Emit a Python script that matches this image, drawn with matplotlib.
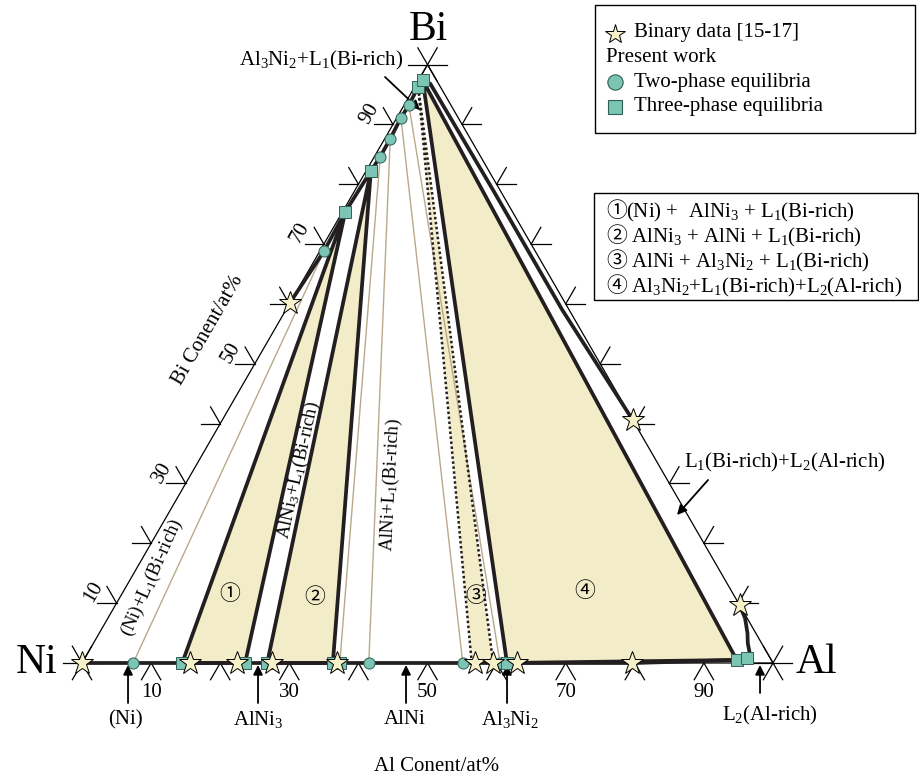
import numpy as np
import matplotlib.pyplot as plt
from matplotlib.patches import Polygon, Rectangle

plt.rcParams['font.family'] = ['Liberation Serif', 'Noto Sans CJK JP']
plt.rcParams['mathtext.fontset'] = 'custom'
plt.rcParams['mathtext.rm'] = 'Liberation Serif'
plt.rcParams['mathtext.it'] = 'Liberation Serif:italic'

# compositions in at% (Al, Bi); Ni is the rest
binary_al = [0, 15.6, 22.4, 27.5, 36.9, 56.9, 59.5, 63.0, 79.6, 0, 59.4, 90.3]
binary_bi = [0, 0, 0, 0, 0, 0, 0, 0, 0, 60.2, 40.6, 9.7]

two_al = [7.4, 41.5, 55.1, 60.5, 0.6, 0.85, 0.8, 0.6, 0.7]
two_bi = [0, 0, 0, 0, 68.9, 84.6, 87.6, 91.1, 93.2]

three_al = [14.5, 23.6, 26.8, 36.3, 37.3, 61.5, 94.5, 95.8, 0.4, 0.7, 0.5, 0.6]
three_bi = [0, 0, 0, 0, 0, 0, 0.5, 0.8, 75.4, 82.2, 96.3, 97.4]

# tie triangles (Al, Bi) of each vertex
tri1 = [(14.5, 0), (23.6, 0), (0.4, 75.4)]
tri2 = [(26.8, 0), (36.3, 0), (0.7, 82.2)]
tri3 = [(56.4, 0), (59.5, 0), (0.5, 96.3)]
tri4 = [(61.5, 0), (0.6, 97.4), (94.5, 0.5)]

# two-phase tie lines: solid end -> liquid end
tie_solid = [(7.4, 0), (37.3, 0), (41.5, 0), (55.1, 0), (60.5, 0)]
tie_liq = [(0.6, 68.9), (0.85, 84.6), (0.8, 87.6), (0.6, 91.1), (0.7, 93.2)]

# phase boundaries
l1_al = [0, 0.6, 0.4, 0.7, 0.85, 0.8, 0.6, 0.7, 0.5, 0.6, 2.0, 20.0, 40.0, 59.4]
l1_bi = [60.2, 68.9, 75.4, 82.2, 84.6, 87.6, 91.1, 93.2, 96.3, 97.4, 96.8, 79.0, 59.0, 40.6]
l2_al = [90.3, 92.2, 93.8, 94.7, 95.7, 95.9, 95.8]
l2_bi = [9.7, 7.5, 5.0, 3.3, 1.8, 1.1, 0.8]
solid_al = [0, 80, 94.5]
solid_bi = [0, 0, 0.5]

ticks = [10, 20, 30, 40, 50, 60, 70, 80, 90]
tick_labels = ['10', '', '30', '', '50', '', '70', '', '90']

FILL = '#F2ECC8'
TEAL = '#7CC4B3'
STAR = '#F6F1C8'
DARK = '#231F20'
TIE = '#B9A98A'

S3 = np.sqrt(3) / 2


def tern(al, bi):
    al = np.asarray(al, float)
    bi = np.asarray(bi, float)
    return al + bi / 2, bi * S3


def fp(px, py):
    return px / 920, 1 - py / 779


def dp(px, py):
    # pixel position of the reference layout -> data units
    return (px - 82) / 6.91, (663 - py) / 6.91


fig = plt.figure(figsize=(9.2, 7.79), dpi=100)
ax = fig.add_axes([0, 0, 1, 1])
ax.set_xlim(-11.87, 121.27)
ax.set_ylim(-16.79, 95.95)
ax.axis('off')

# frame
cx, cy = tern([0, 100, 0, 0], [0, 0, 100, 0])
ax.plot(cx, cy, color='k', lw=0.9, zorder=2)

L = 2.8
d60 = np.array([0.5, S3])
d120 = np.array([-0.5, S3])
for v, lab in zip(ticks, tick_labels):
    x, y = tern(v, 0)
    for d in (-d60, np.array([0.5, -S3])):
        ax.plot([x, x + L * d[0]], [y, y + L * d[1]], color='k', lw=0.9)
    if lab:
        ax.text(x, y - 4.3, lab, ha='center', va='center', fontsize=15)
    x, y = tern(0, v)
    ax.plot([x, x - L], [y, y], color='k', lw=0.9)
    ax.plot([x, x + L * d120[0]], [y, y + L * d120[1]], color='k', lw=0.9)
    if lab:
        ax.text(x - 3.4, y + 1.6, lab, ha='center', va='center', fontsize=15, rotation=60)
    x, y = tern(100 - v, v)
    ax.plot([x, x + L], [y, y], color='k', lw=0.9)
    ax.plot([x, x + L * d60[0]], [y, y + L * d60[1]], color='k', lw=0.9)

for al, bi in [(0, 0), (100, 0), (0, 100)]:
    x, y = tern(al, bi)
    for d in (np.array([1, 0]), d60, d120):
        ax.plot([x - L * d[0], x + L * d[0]], [y - L * d[1], y + L * d[1]], color='k', lw=0.9)

# tie triangles
for tri, dotted in [(tri1, False), (tri2, False), (tri3, True), (tri4, False)]:
    xs, ys = tern([p[0] for p in tri], [p[1] for p in tri])
    ax.add_patch(Polygon(np.c_[xs, ys], closed=True, fc=FILL, ec='none', zorder=1))
    if dotted:
        ax.plot([xs[0], xs[2], xs[1]], [ys[0], ys[2], ys[1]], color=DARK, lw=1.8,
                ls=(0, (1, 1)), zorder=3)
    else:
        ax.plot(np.r_[xs, xs[0]], np.r_[ys, ys[0]], color=DARK, lw=2.7, zorder=3,
                solid_joinstyle='miter')

for a, b in zip(tie_solid, tie_liq):
    xs, ys = tern([a[0], b[0]], [a[1], b[1]])
    ax.plot(xs, ys, color=TIE, lw=1.0, zorder=2)

# boundaries
for al, bi in [(l1_al, l1_bi), (l2_al, l2_bi), (solid_al, solid_bi)]:
    x, y = tern(al, bi)
    ax.plot(x, y, color=DARK, lw=2.7, zorder=3, solid_capstyle='round')

# data points
x, y = tern(binary_al, binary_bi)
ax.plot(x, y, ls='none', marker='*', ms=17, mfc=STAR, mec='k', mew=0.7, zorder=6)
x, y = tern(two_al, two_bi)
ax.plot(x, y, ls='none', marker='o', ms=8, mfc=TEAL, mec='#2F5F55', mew=0.7, zorder=5)
x, y = tern(three_al, three_bi)
ax.plot(x, y, ls='none', marker='s', ms=8, mfc=TEAL, mec='#2F5F55', mew=0.7, zorder=5)

# vertex and axis labels
ax.text(*dp(428, 30), 'Bi', ha='center', va='center', fontsize=30)
ax.text(*dp(37, 663), 'Ni', ha='center', va='center', fontsize=30)
ax.text(*dp(816, 663), 'Al', ha='center', va='center', fontsize=30)
ax.text(*dp(208, 330), 'Bi Conent/at%', ha='center', va='center', fontsize=15, rotation=60)
ax.text(*dp(437, 767), 'Al Conent/at%', ha='center', va='center', fontsize=15)

# region labels
for s, p in zip(['①', '②', '③', '④'], [(230, 595), (315, 598), (476, 597), (585, 592)]):
    ax.text(*dp(*p), s, ha='center', va='center', fontsize=15)

ax.text(*dp(152, 578), '(Ni)+L$_1$(Bi-rich)', ha='center', va='center', fontsize=13.5, rotation=66)
ax.text(*dp(299, 470), 'AlNi$_3$+L$_1$(Bi-rich)', ha='center', va='center', fontsize=13.5, rotation=77.5)
ax.text(*dp(391, 485), 'AlNi+L$_1$(Bi-rich)', ha='center', va='center', fontsize=13.5, rotation=87)

arr = dict(arrowstyle='-|>', color='k', lw=1.3, mutation_scale=14, shrinkA=0, shrinkB=0)
ax.text(*dp(321, 60), 'Al$_3$Ni$_2$+L$_1$(Bi-rich)', ha='center', va='center', fontsize=15)
ax.annotate('', xy=dp(420, 110), xytext=dp(385, 77), arrowprops=arr)
ax.text(*dp(785, 462), 'L$_1$(Bi-rich)+L$_2$(Al-rich)', ha='center', va='center', fontsize=15)
ax.annotate('', xy=dp(677, 515), xytext=dp(708, 480), arrowprops=arr)

bottom = [('(Ni)', 128, 125), ('AlNi$_3$', 258, 258), ('AlNi', 406, 405),
          ('Al$_3$Ni$_2$', 507, 510)]
for s, xa, xl in bottom:
    ax.annotate('', xy=dp(xa, 665), xytext=dp(xa, 703), arrowprops=arr)
    ax.text(*dp(xl, 720), s, ha='center', va='center', fontsize=15)
ax.annotate('', xy=dp(760, 665), xytext=dp(760, 693), arrowprops=arr)
ax.text(*dp(770, 716), 'L$_2$(Al-rich)', ha='center', va='center', fontsize=15)

# legends
x0, y0 = fp(595, 133)
x1, y1 = fp(915, 5)
fig.patches.append(Rectangle((x0, y0), x1 - x0, y1 - y0, transform=fig.transFigure,
                             fc='white', ec='k', lw=1.0))
fig.lines.append(plt.Line2D([fp(615, 0)[0]], [fp(0, 34)[1]], transform=fig.transFigure,
                            ls='none', marker='*', ms=15, mfc=STAR, mec='k', mew=0.7))
fig.lines.append(plt.Line2D([fp(615, 0)[0]], [fp(0, 82)[1]], transform=fig.transFigure,
                            ls='none', marker='o', ms=11, mfc=TEAL, mec='#2F5F55', mew=0.8))
fig.lines.append(plt.Line2D([fp(615, 0)[0]], [fp(0, 107)[1]], transform=fig.transFigure,
                            ls='none', marker='s', ms=9.5, mfc=TEAL, mec='#2F5F55', mew=0.8))
fig.text(*fp(634, 33), 'Binary data [15-17]', va='center', fontsize=15)
fig.text(*fp(606, 58), 'Present work', va='center', fontsize=15)
fig.text(*fp(634, 82), 'Two-phase equilibria', va='center', fontsize=15)
fig.text(*fp(634, 107), 'Three-phase equilibria', va='center', fontsize=15)

x0, y0 = fp(594, 300)
x1, y1 = fp(918, 193)
fig.patches.append(Rectangle((x0, y0), x1 - x0, y1 - y0, transform=fig.transFigure,
                             fc='white', ec='k', lw=1.0))
leg2_num = ['①', '②', '③', '④']
leg2 = ['(Ni) +  AlNi$_3$ + L$_1$(Bi-rich)',
        ' AlNi$_3$ + AlNi + L$_1$(Bi-rich)',
        ' AlNi + Al$_3$Ni$_2$ + L$_1$(Bi-rich)',
        ' Al$_3$Ni$_2$+L$_1$(Bi-rich)+L$_2$(Al-rich)']
for i, (n, s) in enumerate(zip(leg2_num, leg2)):
    fig.text(*fp(606, 212 + 25 * i), n, va='center', fontsize=15)
    fig.text(*fp(626, 212 + 25 * i), s, va='center', fontsize=15)

fig.savefig('out.png', dpi=100)
